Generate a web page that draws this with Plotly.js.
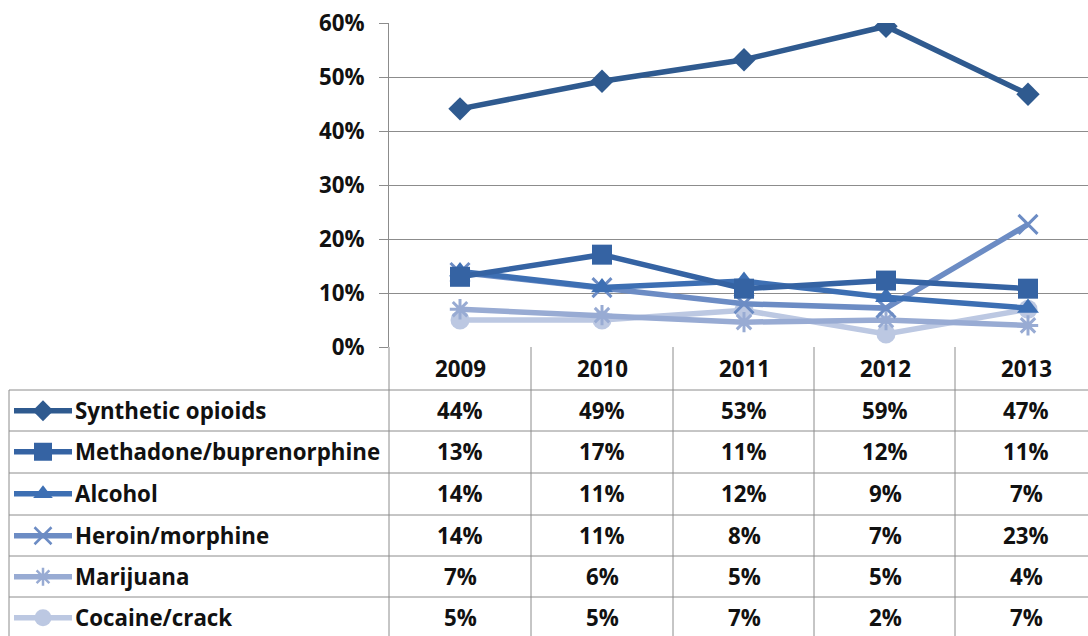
<!DOCTYPE html>
<html><head><meta charset="utf-8">
<script src="https://cdn.plot.ly/plotly-3.0.1.min.js"></script>
<style>html,body{margin:0;padding:0;background:#fff;}#chart{width:1088px;height:636px;}</style>
</head><body><div id="chart"></div>
<script>
// ---- data ----
var years = ['2009','2010','2011','2012','2013'];
var seriesNames = ['Synthetic opioids','Methadone/buprenorphine','Alcohol','Heroin/morphine','Marijuana','Cocaine/crack'];
var syntheticOpioids = [44.1, 49.2, 53.2, 59.4, 46.8];
var methadoneBup    = [13.0, 17.1, 10.8, 12.3, 10.8];
var alcohol          = [14.0, 11.0, 12.2, 9.2, 7.2];
var heroinMorphine   = [13.8, 11.0, 8.0, 7.2, 22.7];
var marijuana        = [7.0, 5.9, 4.6, 5.0, 4.0];
var cocaineCrack     = [5.0, 5.0, 6.8, 2.4, 7.0];
var tableValues = [
  ['44%','49%','53%','59%','47%'],
  ['13%','17%','11%','12%','11%'],
  ['14%','11%','12%','9%','7%'],
  ['14%','11%','8%','7%','23%'],
  ['7%','6%','5%','5%','4%'],
  ['5%','5%','7%','2%','7%']
];
var yTicks = [0, 10, 20, 30, 40, 50, 60];

// ---- styles ----
var allSeries = [syntheticOpioids, methadoneBup, alcohol, heroinMorphine, marijuana, cocaineCrack];
var colors = ['#2F5A8F','#3563A3','#3D6FB3','#6C8CC4','#98ABD3','#BCC8E2'];
var symbols = ['diamond','square','triangle-up','x-thin-open','asterisk-open','circle'];
var sizes = [18, 20, 19, 19, 17, 19];
var W = 1088, H = 636;
function px(x){return x/W;}
function py(y){return 1 - y/H;}
var FONT = 'Open Sans, Liberation Sans, sans-serif';
var FS = 22.3;

var traces = [];
for (var i = allSeries.length - 1; i >= 0; i--) {
  var isLineSym = (symbols[i] === 'x-thin-open' || symbols[i] === 'asterisk-open');
  traces.push({
    type: 'scatter', mode: 'lines+markers', name: seriesNames[i],
    x: years, y: allSeries[i].map(function(v){return v/100;}),
    xaxis: 'x', yaxis: 'y',
    line: {color: colors[i], width: 5.5},
    marker: {symbol: symbols[i], size: sizes[i], color: colors[i],
             line: {color: colors[i], width: isLineSym ? 3 : 0}},
    hoverinfo: 'skip', showlegend: false
  });
}
var rowTops = [390, 431, 473, 515, 556, 597];
var rowH = 41.5;
for (var k = 0; k < seriesNames.length; k++) {
  var cy = rowTops[k] + rowH/2;
  var isLS = (symbols[k] === 'x-thin-open' || symbols[k] === 'asterisk-open');
  traces.push({
    type: 'scatter', mode: 'lines', x: [14, 72], y: [cy, cy], xaxis: 'x2', yaxis: 'y2',
    line: {color: colors[k], width: 5.5}, hoverinfo: 'skip', showlegend: false
  });
  traces.push({
    type: 'scatter', mode: 'markers', x: [43], y: [cy], xaxis: 'x2', yaxis: 'y2',
    marker: {symbol: symbols[k], size: sizes[k]-2, color: colors[k], line: {color: colors[k], width: isLS ? 2.5 : 0}},
    hoverinfo: 'skip', showlegend: false
  });
}

var gridCol = '#8c8c8c';
var shapes = [];
var colEdges = [389, 531, 673, 814, 955];
colEdges.forEach(function(x){
  shapes.push({type:'line', xref:'paper', yref:'paper', x0:px(x), x1:px(x), y0:py(347), y1:0, line:{color:gridCol, width:1}});
});
shapes.push({type:'line', xref:'paper', yref:'paper', x0:px(9), x1:px(9), y0:py(390), y1:0, line:{color:gridCol, width:1}});
rowTops.forEach(function(y){
  shapes.push({type:'line', xref:'paper', yref:'paper', x0:px(9), x1:1, y0:py(y), y1:py(y), line:{color:gridCol, width:1}});
});

var annotations = [];
var colCenters = [460, 602, 744, 885, 1026];
years.forEach(function(yr, j){
  annotations.push({xref:'paper', yref:'paper', x:px(colCenters[j]), y:py(368), text:yr, showarrow:false,
    xanchor:'center', yanchor:'middle', font:{family:FONT, size:FS, color:'#111', weight:700}});
});
for (var r = 0; r < seriesNames.length; r++) {
  var cyy = rowTops[r] + rowH/2;
  annotations.push({xref:'paper', yref:'paper', x:px(73), y:py(cyy), text:seriesNames[r], showarrow:false,
    xanchor:'left', yanchor:'middle', font:{family:FONT, size:FS, color:'#111', weight:700}});
  for (var c = 0; c < years.length; c++) {
    annotations.push({xref:'paper', yref:'paper', x:px(colCenters[c]), y:py(cyy), text:tableValues[r][c], showarrow:false,
      xanchor:'center', yanchor:'middle', font:{family:FONT, size:FS, color:'#111', weight:700}});
  }
}

var layout = {
  width: W, height: H, margin: {l:0, r:0, t:0, b:0},
  paper_bgcolor: '#fff', plot_bgcolor: 'rgba(0,0,0,0)',
  showlegend: false,
  xaxis: {type:'category', domain:[px(389), 1], anchor:'y', range:[-0.5, -0.5 + (W-389)/142],
          showticklabels:false, showgrid:false, zeroline:false, showline:false, ticks:''},
  yaxis: {domain:[py(347), py(23)], anchor:'x', range:[0, 0.6], tickvals: yTicks.map(function(v){return v/100;}),
          ticktext: yTicks.map(function(v){return v+'%';}), showgrid:true, gridcolor:gridCol, gridwidth:1,
          zeroline:false, showline:true, linecolor:gridCol, linewidth:1, ticks:'outside', ticklen:9, tickcolor:gridCol,
          ticklabelstandoff: 10,
          tickfont:{family:FONT, size:FS, color:'#111', weight:700}},
  xaxis2: {domain:[0,1], anchor:'y2', range:[0, W], visible:false, fixedrange:true},
  yaxis2: {domain:[0,1], anchor:'x2', range:[H, 0], visible:false, fixedrange:true},
  shapes: shapes, annotations: annotations
};
Plotly.newPlot('chart', traces, layout, {staticPlot:true, displayModeBar:false});
</script></body></html>
